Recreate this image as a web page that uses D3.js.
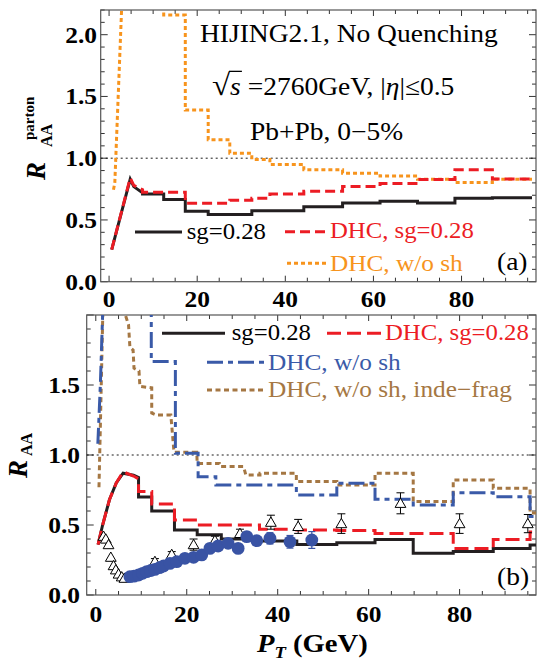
<!DOCTYPE html>
<html><head><meta charset="utf-8">
<script src="https://cdn.jsdelivr.net/npm/d3@7"></script>
<style>body{margin:0;background:#fff}svg{display:block}</style>
</head><body><svg id="c" width="537" height="666"></svg>
<script>
// ---------------- DATA ----------------
const xTickLabels = [0, 20, 40, 60, 80];
const yTickLabelsA = [0, 0.5, 1.0, 1.5, 2.0];
const yTickLabelsB = [0, 0.5, 1.0, 1.5];

// Panel (a) parton R_AA : linear head + histogram bins
const aBlackHead = [[0.6,0.26],[4.8,0.83],[5.6,0.77],[7.6,0.72]];
const aBlackEdges = [7.6,12.4,17.3,22.5,32.4,44.2,53,61.5,70,78.5,87,96];
const aBlackVals  = [0.71,0.665,0.57,0.545,0.575,0.607,0.638,0.652,0.638,0.676,0.68];

const aRedHead = [[0.6,0.26],[4.8,0.84],[5.6,0.78],[7.6,0.745]];
const aRedEdges = [7.6,17.3,27.4,32.4,36.5,44.2,53,61.5,70,78.5,87,96];
const aRedVals  = [0.725,0.636,0.66,0.675,0.71,0.733,0.77,0.795,0.827,0.906,0.832];

const aOrangeHead = [[1.0,0.745],[1.3,0.8],[3.0,2.35]];
const aOrangeEdges = [12.4,17.3,22.5,27.4,32.4,36.5,44.2,53,61.5,70,78.5,87,96];
const aOrangeVals  = [2.16,1.39,1.15,1.04,0.99,0.95,0.906,0.879,0.855,0.83,0.803,0.83];

// Panel (b) hadron R_AA
const bBlackHead = [[0.5,0.36],[1.5,0.5],[3,0.68],[4.5,0.8],[6,0.87],[8.3,0.855],[9.4,0.84]];
const bBlackEdges = [9.4,12.3,17.3,22.3,27.6,36,44.2,53,61.4,69.8,78.6,87.4,95.5,100];
const bBlackVals  = [0.70,0.60,0.464,0.43,0.40,0.385,0.36,0.374,0.397,0.298,0.31,0.333,0.357];

const bRedHead = [[0.5,0.36],[1.5,0.5],[3,0.68],[4.5,0.8],[6,0.88],[8.3,0.85],[9.4,0.83]];
const bRedEdges = [9.4,12.3,17.3,22.3,36,44.2,53,61.4,69.8,78.6,87.4,95.5,100];
const bRedVals  = [0.74,0.65,0.536,0.5,0.47,0.465,0.46,0.44,0.44,0.333,0.397,0.45];

const bBlueHead = [[0.45,1.08],[1.0,1.5],[1.6,2.1]];
const bBlueEdges = [12.2,17.5,22.5,26.4,36,44.1,53,61.4,69.8,78.6,87.4,95.5,100];
const bBlueVals  = [1.667,1.012,0.845,0.786,0.786,0.714,0.798,0.684,0.643,0.731,0.702,0.56];

const bBrownHead = [[0.7,0.77],[1.0,1.2],[1.6,2.1]];
const bBrownMid = [[6.0,2.05],[7.2,1.93],[7.5,1.77],[8.2,1.75],[8.4,1.62],[9.5,1.6],[9.7,1.49],[12.3,1.48],[12.3,1.3],[13.3,1.286],[16.5,1.286],[17.2,1.02],[22.2,1.02],[22.3,0.94],[27.2,0.94],[27.4,0.917],[32.5,0.917],[33,0.857],[36.1,0.857]];
const bBrownEdges = [36.1,44.1,53,61.4,69.8,78.6,87.4,95.5,100];
const bBrownVals  = [0.869,0.81,0.786,0.869,0.667,0.821,0.762,0.585];

// data points: open triangles
const triPt  = [1.7,2.2,2.8,3.3,3.9,4.4,5.0,5.7,6.3,13.0,16.7,21.5,26.2,31.7,38.5,44.5,54,67,80,95];
const triVal = [0.42,0.40,0.36,0.27,0.21,0.18,0.15,0.13,0.12,0.24,0.29,0.36,0.39,0.44,0.52,0.49,0.51,0.655,0.51,0.51];
const triErr = [0.01,0.01,0.01,0.01,0.01,0.01,0.01,0.01,0.01,0.02,0.02,0.04,0.03,0.03,0.05,0.05,0.07,0.075,0.07,0.065];
// data points: filled circles
const cirPt  = [7.5,8.4,9.4,10.3,11.2,12.1,13,14,14.9,16.3,17.8,19.6,21.5,23.3,25.1,26.9,29.1,31.3,33.2,35.4,38.3,42.7,47.5];
const cirVal = [0.131,0.135,0.143,0.155,0.167,0.175,0.183,0.195,0.207,0.226,0.238,0.262,0.269,0.286,0.333,0.35,0.369,0.333,0.417,0.388,0.405,0.38,0.393];
const cirErr = [0.01,0.01,0.01,0.01,0.01,0.01,0.01,0.01,0.01,0.01,0.01,0.01,0.01,0.01,0.015,0.015,0.02,0.02,0.03,0.03,0.04,0.045,0.06];

// ---------------- DRAW ----------------
const svg = d3.select('#c');
const SERIF = "'Liberation Serif','Times New Roman','DejaVu Serif',serif";
const SX = 1.1;
const C = {black:'#231f20', red:'#ec1c24', orange:'#f7941d', blue:'#3a5aa8', brown:'#a57743', circ:'#3953a4'};
const STY = {
  black:{c:C.black, d:null},
  red:{c:C.red, d:'10,5'},
  redB:{c:C.red, d:'14,6'},
  orange:{c:C.orange, d:'4,3'},
  blue:{c:C.blue, d:'16,5,5,5'},
  brown:{c:C.brown, d:'5,3.5'}
};

function stepPts(edges, vals){const p=[];vals.forEach((v,i)=>{p.push([edges[i],v],[edges[i+1],v]);});return p;}

function txt(x, y, parts, o={}){
  const g = svg.append('g').attr('transform',`translate(${x},${y}) scale(${o.sx||SX},1)`);
  const t = g.append('text').attr('font-family',SERIF).attr('font-size',o.size||25)
    .attr('fill',o.fill||'#000').attr('font-weight',o.bold?'bold':'normal')
    .attr('text-anchor',o.anchor||'start');
  parts.forEach(p=>{
    const s=t.append('tspan').text(p.t);
    if(p.i) s.attr('font-style','italic');
    if(p.size) s.attr('font-size',p.size);
    if(p.dy) s.attr('dy',p.dy);
  });
  return {g,t};
}

function panel(P){
  const x = d3.scaleLinear().domain(P.xd).range([P.x0,P.x1]);
  const y = d3.scaleLinear().domain(P.yd).range([P.y1,P.y0]);
  const g = svg.append('g');
  const cid='clip'+P.id;
  svg.append('defs').append('clipPath').attr('id',cid).append('rect')
    .attr('x',P.x0).attr('y',P.y0).attr('width',P.x1-P.x0).attr('height',P.y1-P.y0);
  const tk = g.append('g').attr('stroke','#333').attr('stroke-width',1);
  for(let v=0; v<=95; v+=5){
    const L = v%20===0?6:4;
    tk.append('line').attr('x1',x(v)).attr('x2',x(v)).attr('y1',P.y1).attr('y2',P.y1-L);
    tk.append('line').attr('x1',x(v)).attr('x2',x(v)).attr('y1',P.y0).attr('y2',P.y0+L);
  }
  for(let k=0; k/10<=P.yd[1]+1e-9; k++){
    const v=k/10, L = k%5===0?7:4;
    tk.append('line').attr('y1',y(v)).attr('y2',y(v)).attr('x1',P.x0).attr('x2',P.x0+L);
    tk.append('line').attr('y1',y(v)).attr('y2',y(v)).attr('x1',P.x1).attr('x2',P.x1-L);
  }
  g.append('rect').attr('x',P.x0).attr('y',P.y0).attr('width',P.x1-P.x0).attr('height',P.y1-P.y0)
    .attr('fill','none').attr('stroke','#555').attr('stroke-width',1.2);
  xTickLabels.forEach(v=>{
    txt(x(v), P.xlabY, [{t:String(v)}], {bold:true, anchor:'middle', size:24, sx:1.06});
  });
  P.yLabels.forEach(v=>{
    txt(P.ylabX, y(v)+8, [{t:v.toFixed(1)}], {bold:true, anchor:'end', size:24, sx:1.06});
  });
  g.append('line').attr('x1',P.x0).attr('x2',P.x1).attr('y1',y(1)).attr('y2',y(1))
    .attr('stroke','#000').attr('stroke-width',0.9).attr('stroke-dasharray','2,3');
  const plot = svg.append('g').attr('clip-path',`url(#${cid})`);
  const line = d3.line().defined(d=>d!==null).x(d=>x(d[0])).y(d=>y(d[1]));
  function series(pts, st){
    plot.append('path').attr('d',line(pts)).attr('fill','none')
      .attr('stroke',STY[st].c).attr('stroke-width',3)
      .attr('stroke-dasharray',STY[st].d).attr('stroke-linejoin','miter');
  }
  return {x,y,plot,series};
}

function legendLine(x1,x2,yy,st){
  svg.append('line').attr('x1',x1).attr('x2',x2).attr('y1',yy).attr('y2',yy)
    .attr('stroke',STY[st].c).attr('stroke-width',3).attr('stroke-dasharray',STY[st].d);
}

// ---- Panel (a)
const A = panel({id:'a', x0:100.7, x1:536, y0:10, y1:281.7, xd:[-1.9,96.9], yd:[0,2.2],
  xlabY:307, ylabX:97, yLabels:yTickLabelsA});
A.series(aOrangeHead.concat([null],[[12.4,2.35]],stepPts(aOrangeEdges,aOrangeVals)),'orange');
A.series(aBlackHead.concat(stepPts(aBlackEdges,aBlackVals)),'black');
A.series(aRedHead.concat(stepPts(aRedEdges,aRedVals)),'red');

txt(200,42,[{t:'HIJING2.1, No Quenching'}],{size:25});
{
  const r = txt(212,95,[{t:'√',size:30},{t:'s',i:true},{t:' =2760GeV, |'},{t:'η',i:true},{t:'|≤0.5'}],{size:25});
  const e = r.t.node().getExtentOfChar(1);
  const e0 = r.t.node().getExtentOfChar(0);
  r.g.append('line').attr('x1',e0.x+e0.width-1).attr('x2',e.x+e.width+1)
    .attr('y1',e0.y+3).attr('y2',e0.y+3).attr('stroke','#000').attr('stroke-width',1.3);
}
txt(250,140,[{t:'Pb+Pb, 0−5%'}],{size:25});

legendLine(135,182,232,'black');
txt(186.7,238.5,[{t:'sg=0.28'}],{size:22.5});
legendLine(285,330,231.7,'red');
txt(330,237.5,[{t:'DHC, sg=0.28'}],{size:22.5,fill:C.red});
legendLine(287,328,263.3,'orange');
txt(330,270.5,[{t:'DHC, w/o sh'}],{size:23,fill:C.orange});
txt(497,270,[{t:'(a)'}],{size:25});

{
  const g = svg.append('g').attr('transform','translate(45,180) rotate(-90)');
  g.append('text').attr('font-family',SERIF).attr('font-weight','bold').attr('font-style','italic')
    .attr('font-size',27).text('R');
  g.append('text').attr('font-family',SERIF).attr('font-weight','bold').attr('font-size',16)
    .attr('x',33).attr('y',7).text('AA');
  g.append('text').attr('font-family',SERIF).attr('font-weight','bold').attr('font-size',15)
    .attr('x',40).attr('y',-11).text('parton');
}

// ---- Panel (b)
const B = panel({id:'b', x0:86.7, x1:536, y0:315, y1:595, xd:[-2,96.8], yd:[0,2.0],
  xlabY:621.5, ylabX:80, yLabels:yTickLabelsB});
B.series(bBrownHead.concat([null],bBrownMid,stepPts(bBrownEdges,bBrownVals)),'brown');
B.series(bBlueHead.concat([null],[[12.2,2.1]],stepPts(bBlueEdges,bBlueVals)),'blue');
B.series(bBlackHead.concat(stepPts(bBlackEdges,bBlackVals)),'black');
B.series(bRedHead.concat(stepPts(bRedEdges,bRedVals)),'redB');

const tri = d3.symbol().type(d3.symbolTriangle).size(50);
triPt.forEach((p,i)=>{
  const cx=B.x(p), cy=B.y(triVal[i]);
  const e = triErr[i];
  if(e>0.015){
    B.plot.append('line').attr('x1',cx).attr('x2',cx).attr('y1',B.y(triVal[i]+e)).attr('y2',B.y(triVal[i]-e)).attr('stroke','#000').attr('stroke-width',1);
    [triVal[i]+e, triVal[i]-e].forEach(v=>B.plot.append('line').attr('x1',cx-4).attr('x2',cx+4).attr('y1',B.y(v)).attr('y2',B.y(v)).attr('stroke','#000').attr('stroke-width',1));
  }
  B.plot.append('path').attr('d',tri()).attr('transform',`translate(${cx},${cy+1})`)
    .attr('fill','#fff').attr('stroke','#000').attr('stroke-width',1);
});
cirPt.forEach((p,i)=>{
  const cx=B.x(p), cy=B.y(cirVal[i]);
  const e = cirErr[i];
  if(e>0.025){
    B.plot.append('line').attr('x1',cx).attr('x2',cx).attr('y1',B.y(cirVal[i]+e)).attr('y2',B.y(cirVal[i]-e)).attr('stroke',C.circ).attr('stroke-width',1.2);
    [cirVal[i]+e, cirVal[i]-e].forEach(v=>B.plot.append('line').attr('x1',cx-3.5).attr('x2',cx+3.5).attr('y1',B.y(v)).attr('y2',B.y(v)).attr('stroke',C.circ).attr('stroke-width',1.2));
  }
  B.plot.append('circle').attr('cx',cx).attr('cy',cy).attr('r',6.4).attr('fill',C.circ);
});

legendLine(162,225,333.3,'black');
txt(231.7,340,[{t:'sg=0.28'}],{size:22.5});
legendLine(327,385,333.3,'redB');
txt(385,340,[{t:'DHC, sg=0.28'}],{size:22.5,fill:C.red});
legendLine(207,266,362.3,'blue');
txt(268,370,[{t:'DHC, w/o sh'}],{size:23,fill:C.blue});
legendLine(207,266,390,'brown');
txt(268,396.7,[{t:'DHC, w/o sh, inde−frag'}],{size:23,fill:C.brown});
txt(497,585,[{t:'(b)'}],{size:25});

{
  const g = svg.append('g').attr('transform','translate(27,478) rotate(-90)');
  g.append('text').attr('font-family',SERIF).attr('font-weight','bold').attr('font-style','italic')
    .attr('font-size',27).text('R');
  g.append('text').attr('font-family',SERIF).attr('font-weight','bold').attr('font-size',16)
    .attr('x',22).attr('y',5).text('AA');
}
txt(257,652,[{t:'P',i:true},{t:'T',i:true,size:17,dy:6},{t:' (GeV)',dy:-6}],{bold:true,size:26});
</script></body></html>
